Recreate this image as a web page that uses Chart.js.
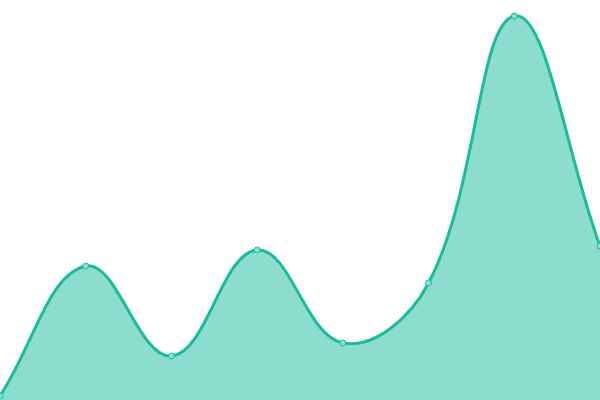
<!DOCTYPE html>
<html>
<head>
<meta charset="utf-8">
<script src="https://cdn.jsdelivr.net/npm/chart.js@4"></script>
<style>
  html, body { margin: 0; padding: 0; background: #fff; }
  #wrap { width: 600px; height: 400px; }
</style>
</head>
<body>
<div id="wrap"><canvas id="chart"></canvas></div>
<script>
// values (0..100 scale)
const labels = ['1', '2', '3', '4', '5', '6', '7', '8'];
const values = [1, 33.5, 11, 37.5, 14.25, 29.25, 96, 38.5];

const ctx = document.getElementById('chart').getContext('2d');

new Chart(ctx, {
  type: 'line',
  data: {
    labels,
    datasets: [{
      data: values,
      fill: true,
      borderColor: '#1abc9c',
      backgroundColor: 'rgba(26,188,156,0.5)',
      borderWidth: 3,
      tension: 0.4,
      pointRadius: 3,
      pointBackgroundColor: 'rgba(137,224,208,1)',
      pointBorderColor: '#1abc9c',
      pointBorderWidth: 1
    }]
  },
  options: {
    responsive: true,
    maintainAspectRatio: false,
    animation: false,
    layout: { padding: 0, autoPadding: false },
    plugins: { legend: { display: false }, tooltip: { enabled: false } },
    scales: {
      x: { display: false, offset: false },
      y: { display: false, min: 0, max: 100 }
    }
  }
});
</script>
</body>
</html>
